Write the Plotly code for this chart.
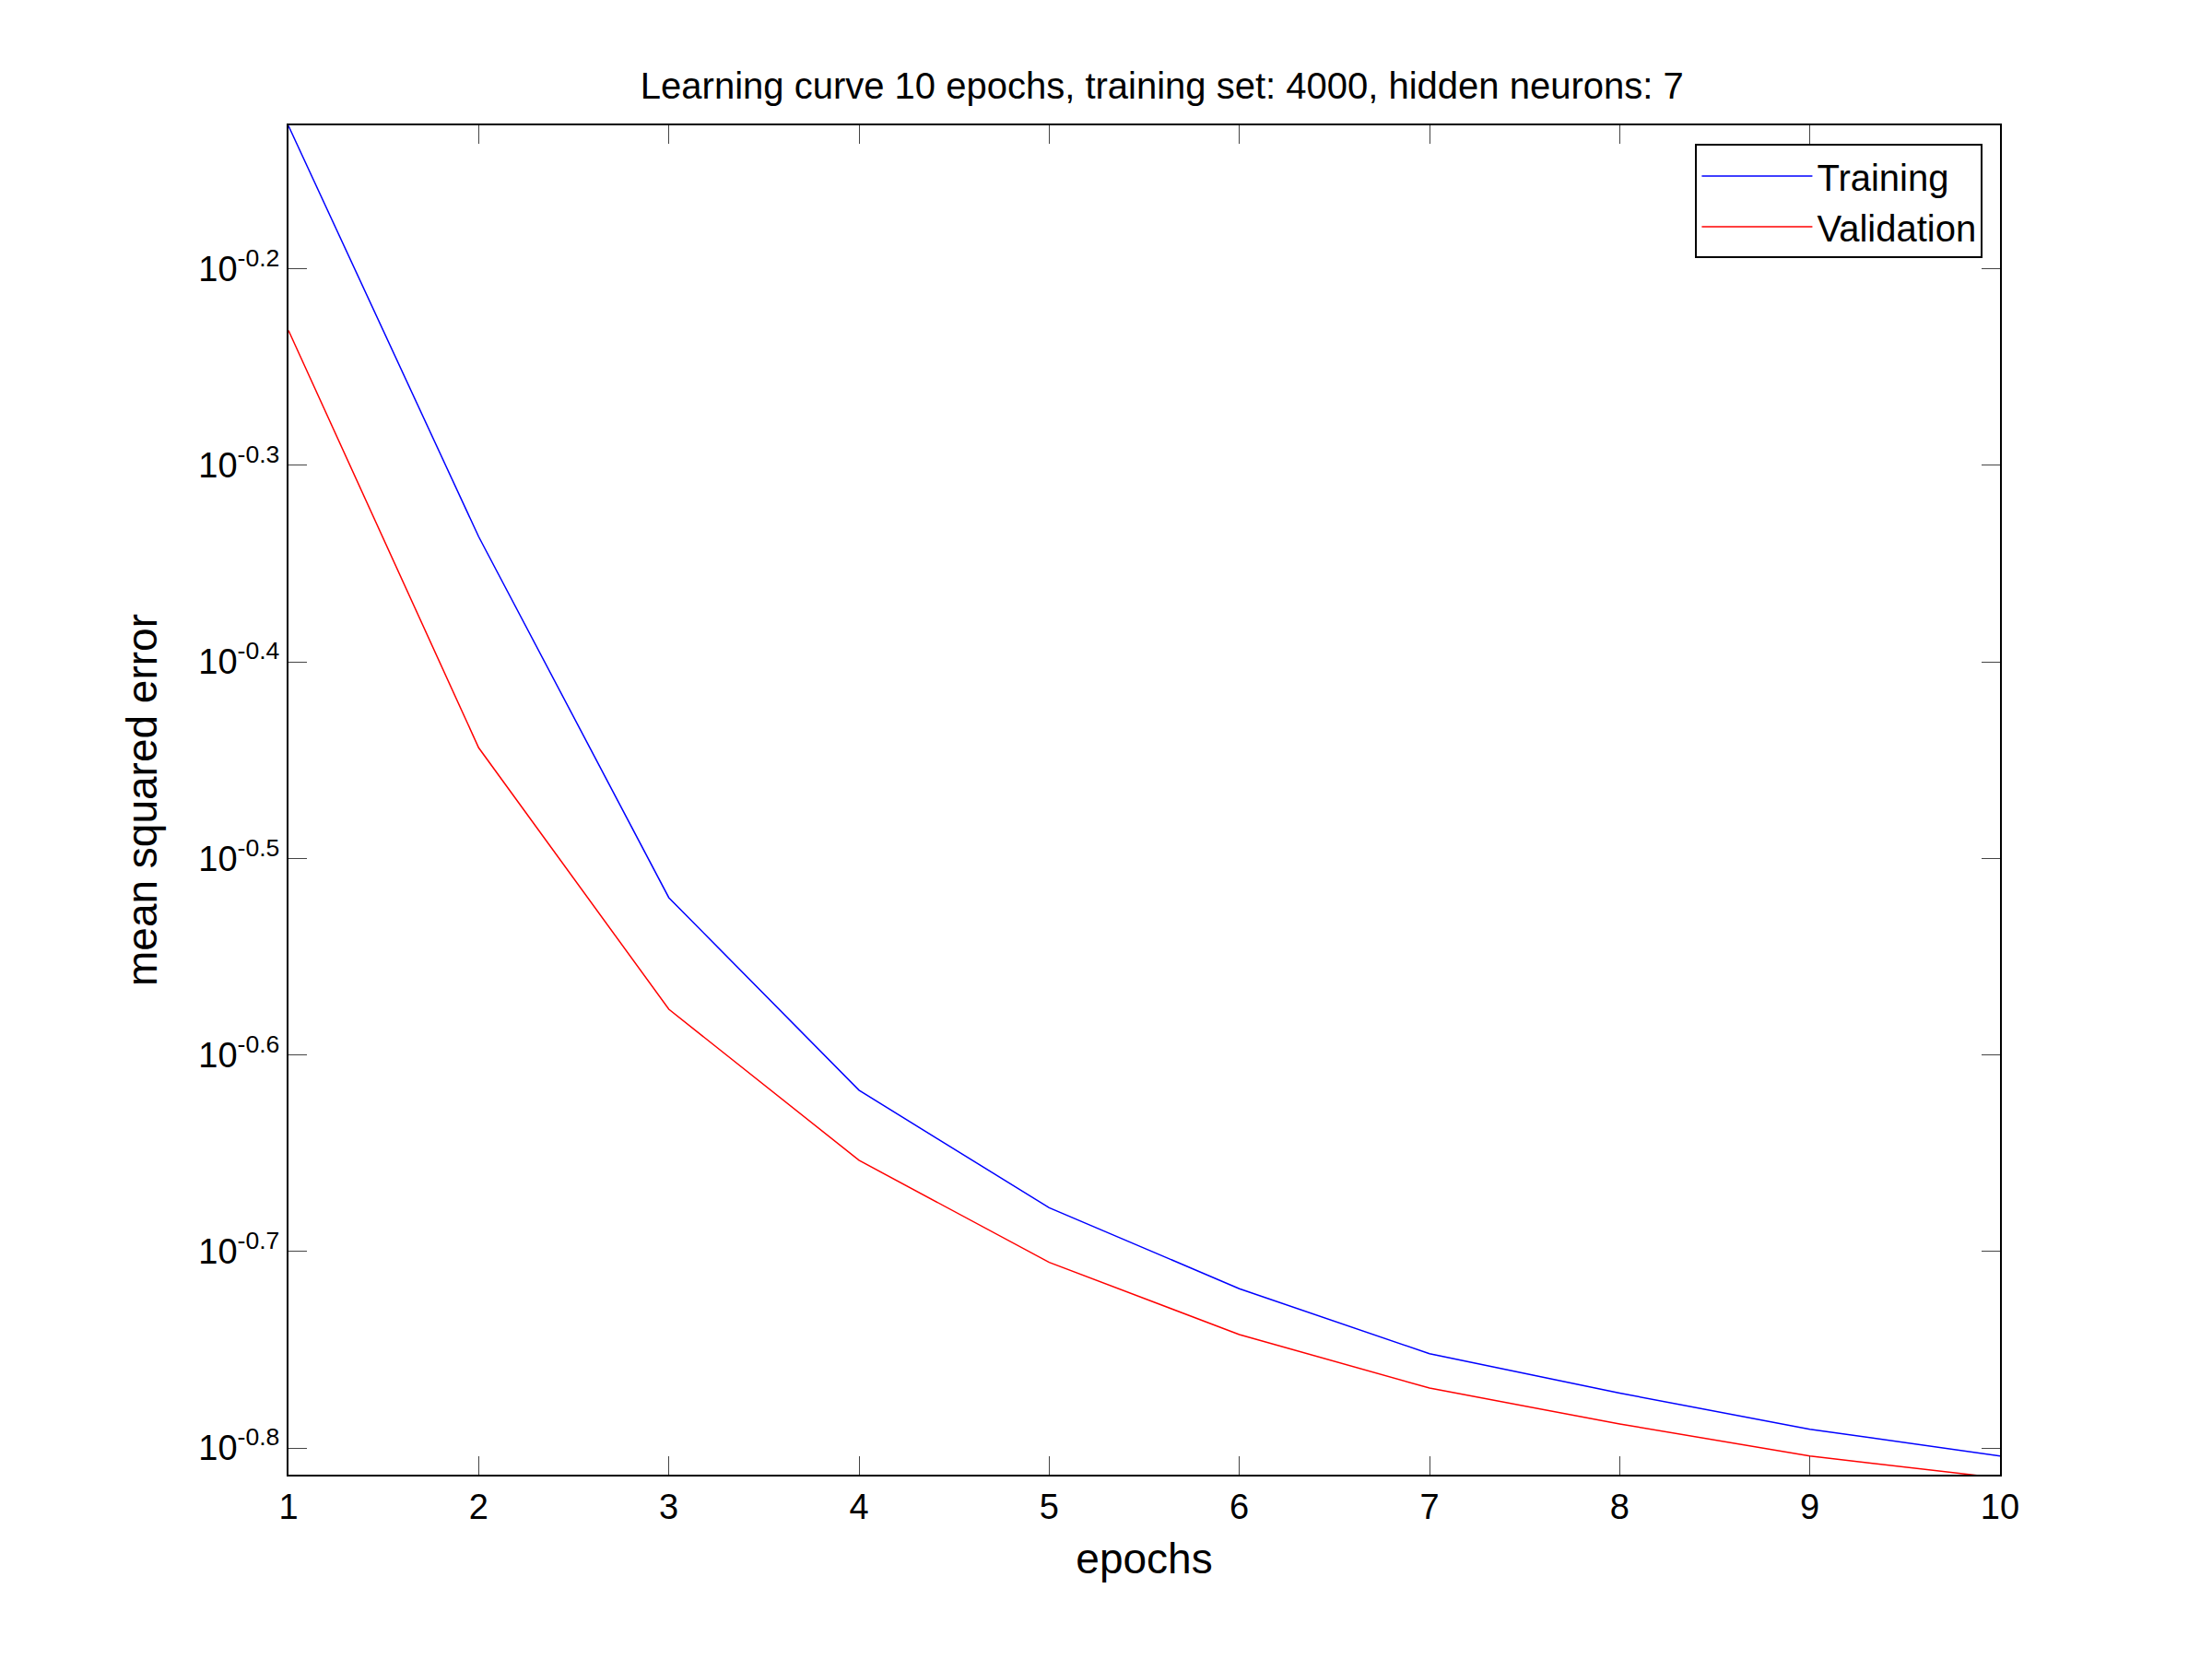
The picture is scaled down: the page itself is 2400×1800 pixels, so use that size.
import plotly.graph_objects as go

epochs = [1, 2, 3, 4, 5, 6, 7, 8, 9, 10]
training = [0.746, 0.461, 0.302, 0.241, 0.210, 0.191, 0.177, 0.169, 0.162, 0.157]
validation = [0.587, 0.360, 0.265, 0.222, 0.197, 0.181, 0.170, 0.163, 0.157, 0.153]
ytick_exp = [-0.2, -0.3, -0.4, -0.5, -0.6, -0.7, -0.8]

fig = go.Figure()
fig.add_trace(go.Scatter(x=epochs, y=training, mode="lines", name="Training",
                         line=dict(color="#0000ff", width=1.5)))
fig.add_trace(go.Scatter(x=epochs, y=validation, mode="lines", name="Validation",
                         line=dict(color="#ff0000", width=1.5)))

font = "Liberation Sans, Arial, sans-serif"
fig.update_layout(
    width=2400, height=1800, paper_bgcolor="white", plot_bgcolor="white",
    margin=dict(l=305, r=238, t=128, b=208),
    font=dict(family=font, size=38, color="black"),
    title=dict(text="Learning curve 10 epochs, training set: 4000, hidden neurons: 7",
               x=0.522, xanchor="center", y=0.953, yanchor="middle", font=dict(size=40)),
    legend=dict(x=0.99, xanchor="right", y=0.986, yanchor="top",
                bordercolor="black", borderwidth=2, bgcolor="white",
                itemwidth=120, font=dict(size=40)),
)
fig.update_xaxes(range=[1, 10], tickvals=epochs, ticks="inside", ticklen=20,
                 mirror="ticks", showline=True, linecolor="black", linewidth=2,
                 showgrid=False, zeroline=False, title=dict(text="epochs", standoff=20),
                 tickfont=dict(size=38))
fig.update_yaxes(type="log", range=[-0.8136, -0.127],
                 tickvals=[10 ** e for e in ytick_exp],
                 ticktext=["10<sup>%s</sup>" % e for e in ytick_exp],
                 ticks="inside", ticklen=20, mirror="ticks", showline=True,
                 linecolor="black", linewidth=2, showgrid=False, zeroline=False,
                 title=dict(text="mean squared error", standoff=30), tickfont=dict(size=38))

fig.write_html("out.html")
